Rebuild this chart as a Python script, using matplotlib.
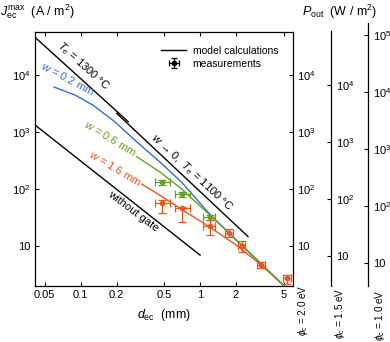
import numpy as np
import matplotlib
matplotlib.use("Agg")
import matplotlib.pyplot as plt
from matplotlib.lines import Line2D

plt.rcParams['font.family'] = ['Liberation Sans', 'DejaVu Sans']
plt.rcParams['mathtext.fontset'] = 'custom'
plt.rcParams['mathtext.rm'] = 'Liberation Sans'
plt.rcParams['mathtext.it'] = 'Liberation Sans:italic'
plt.rcParams['font.size'] = 7.5

# model curves, d_ec (mm) vs J (A/m^2)
d_1300 = [0.0414, 0.25]
j_1300 = [46000, 1520]
d_1100 = [0.2004, 2.52]
j_1100 = [2130, 14.7]
d_nogate = [0.0414, 1.0]
j_nogate = [1330, 6.95]

d_w02 = [0.0598, 0.0896, 0.127, 0.194, 0.296, 0.462, 0.7, 1.21, 2.0, 3.0, 5.06]
j_w02 = [6150, 4460, 2950, 1500, 668, 297, 132, 36, 12.8, 5.7, 2.0]
d_w06 = [0.295, 0.46, 0.68, 1.2, 2.0, 3.0, 5.06]
j_w06 = [369, 200, 106, 35.5, 13, 5.8, 2.0]
d_w16 = [0.325, 0.47, 0.7, 1.14, 2.0, 3.2, 5.06]
j_w16 = [122, 76, 44, 23.3, 10.5, 4.8, 2.0]

# measurements
md_g = [0.477, 0.703, 1.213]
mj_g = [131, 81.7, 32.3]
mj_g_lo = [14, 8.3, 3.7]
mj_g_hi = [13, 7.7, 2.7]
md_o = [0.477, 0.703, 1.213, 1.75, 2.23, 3.25, 5.31]
mj_o = [57.5, 45.8, 22.9, 16.7, 9.9, 4.7, 2.75]
mj_o_lo = [19, 19, 7.3, 2.5, 2.0, 0.64, 0.55]
mj_o_hi = [6.5, 3.1, 5.7, 3.2, 2.5, 0.6, 0.35]
md_lo = [0.057, 0.086, 0.15, 0.13, 0.17, 0.26, 0.32]
md_hi = [0.083, 0.12, 0.13, 0.12, 0.15, 0.25, 0.45]

xticks = [0.05, 0.1, 0.2, 0.5, 1, 2, 5]
xticklabels = ['0.05', '0.1', '0.2', '0.5', '1', '2', '5']
yticks = [10, 100, 1000, 10000]
yticklabels = ['10', '$10^2$', '$10^3$', '$10^4$']
p_factors = [1.0, 1.5, 2.0]
p_labels = ['2.0', '1.5', '1.0']

blue = '#2f6fd3'
green = '#67a020'
orange = '#e8561d'

W, H = 390, 342
fig = plt.figure(figsize=(W / 100, H / 100), dpi=100)
ax = fig.add_axes([35 / W, 56 / H, 258 / W, 254.5 / H])
ax.set_xscale('log')
ax.set_yscale('log')
ax.set_xlim(0.0414, 6.0)
ax.set_ylim(2.0, 5.8e4)

lw = 1.0
ax.plot(d_1300, j_1300, color='black', lw=lw)
ax.plot(d_1100, j_1100, color='black', lw=lw)
ax.plot(d_nogate, j_nogate, color='black', lw=lw)
ax.plot(d_w02, j_w02, color=blue, lw=lw)
ax.plot(d_w16, j_w16, color=orange, lw=lw)
ax.plot(d_w06, j_w06, color=green, lw=lw)

ax.errorbar(md_g, mj_g, yerr=[mj_g_lo, mj_g_hi], xerr=[md_lo[:3], md_hi[:3]],
            fmt='o', ms=3, color=green, ecolor=green, elinewidth=0.9,
            capsize=3, capthick=0.9)
ax.errorbar(md_o, mj_o, yerr=[mj_o_lo, mj_o_hi], xerr=[md_lo, md_hi],
            fmt='o', ms=3, color=orange, ecolor=orange, elinewidth=0.9,
            capsize=3, capthick=0.9)

ax.set_xticks(xticks)
ax.set_xticklabels(xticklabels)
ax.set_yticks(yticks)
ax.set_yticklabels(yticklabels)
ax.minorticks_off()
ax.tick_params(direction='in', length=3, width=0.8, top=True, right=True,
               labelright=True, pad=3, labelsize=8)
for s in ax.spines.values():
    s.set_linewidth(0.9)
ax.set_xlabel(r'$d_\mathrm{ec}$  (mm)', labelpad=5, fontsize=9)

# annotations along the curves
ax.text(0.1045, 14400, r'$T_\mathrm{e}$ = 1300 °C', rotation=-42,
        ha='center', va='center', rotation_mode='anchor', fontsize=8)
ax.text(0.0783, 8500, r'$w$ = 0.2 mm', rotation=-28, color=blue,
        ha='center', va='center', rotation_mode='anchor', fontsize=8)
ax.text(0.176, 785, r'$w$ = 0.6 mm', rotation=-31, color=green,
        ha='center', va='center', rotation_mode='anchor', fontsize=8)
ax.text(0.194, 233, r'$w$ = 1.6 mm', rotation=-31, color=orange,
        ha='center', va='center', rotation_mode='anchor', fontsize=8)
ax.text(0.852, 194, r'$w$ → 0,  $T_\mathrm{e}$ = 1100 °C', rotation=-43,
        ha='center', va='center', rotation_mode='anchor', fontsize=8)
ax.text(0.274, 41, 'without gate', rotation=-37,
        ha='center', va='center', rotation_mode='anchor', fontsize=8)

# legend
h_model = Line2D([], [], color='black', lw=1.0)
h_meas = ax.errorbar([np.nan], [np.nan], xerr=[1], yerr=[1], fmt='o', ms=3,
                     color='black', capsize=2.5, elinewidth=0.9, capthick=0.9)
ax.legend([h_model, h_meas], ['model calculations', 'measurements'],
          loc='upper left', bbox_to_anchor=(0.47, 0.965), frameon=False,
          handlelength=2.4, handletextpad=0.6, borderpad=0, labelspacing=0.3,
          fontsize=7.5)

# extra power axes
for i, (x_px, top_px) in enumerate([(331, 31), (368, 23)]):
    f = p_factors[i + 1]
    pax = fig.add_axes([x_px / W, 56 / H, 0.0001, (286 - top_px) / H])
    pax.set_yscale('log')
    top_j = 10 ** (1 + (246 - top_px) / 57)
    pax.set_ylim(2.0 * f, top_j * f)
    for k in ['top', 'bottom', 'right']:
        pax.spines[k].set_visible(False)
    pax.spines['left'].set_linewidth(0.9)
    pax.set_xticks([])
    pax.patch.set_visible(False)
    if i == 1:
        pax.set_yticks(yticks + [100000])
        pax.set_yticklabels(yticklabels + ['$10^5$'])
    else:
        pax.set_yticks(yticks)
        pax.set_yticklabels(yticklabels)
    pax.minorticks_off()
    pax.tick_params(axis='y', direction='out', length=3, width=0.8, labelsize=8,
                    left=True, right=False, labelleft=False, labelright=True, pad=0.5)

for x_px, top_px, lab in [(303, 284, p_labels[0]), (340, 287, p_labels[1]),
                          (380, 289, p_labels[2])]:
    fig.text(x_px / W, 1 - top_px / H, r'$\phi_\mathrm{c}$ = ' + lab + ' eV',
             rotation=90, ha='center', va='top', fontsize=7.2)

fig.text(0.0, 1 - 12 / H, r'$J_\mathrm{ec}^\mathrm{max}$  (A / m$^2$)',
         ha='left', va='center', fontsize=9)
fig.text(340 / W, 1 - 12 / H, r'$P_\mathrm{out}$  (W / m$^2$)',
         ha='center', va='center', fontsize=9)

fig.savefig('out.png', dpi=100)
